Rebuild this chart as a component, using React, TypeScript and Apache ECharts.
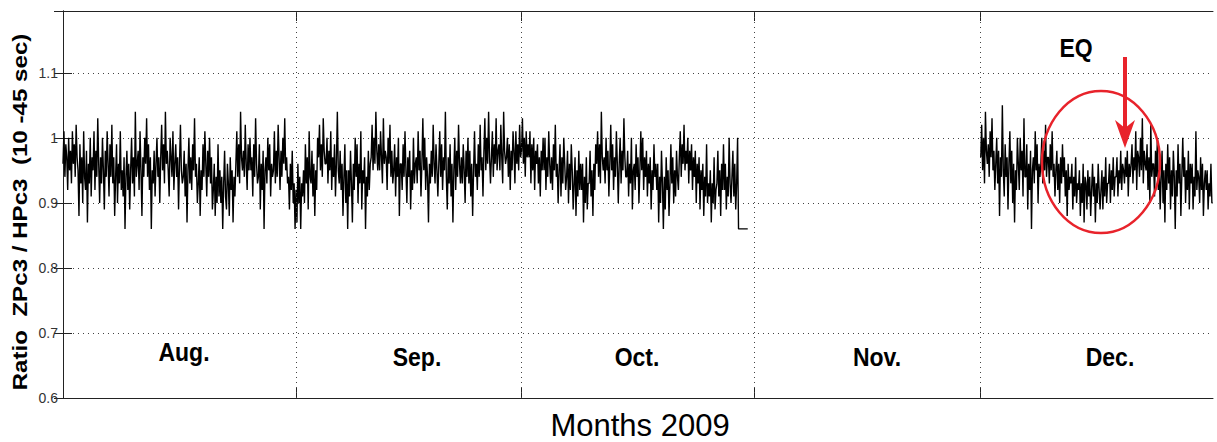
import React, { useEffect, useRef } from 'react';
import * as echarts from 'echarts';

// ---------- data ----------
const monthNames = ['Aug.', 'Sep.', 'Oct.', 'Nov.', 'Dec.'];
const monthBoundaryDays = [0, 31, 61, 92, 122, 153];
const yTickValues = [0.6, 0.7, 0.8, 0.9, 1, 1.1];
const samplesPerDay = 8;
const firstBlockStartDay = 0;
const decStartDay = 122.1;

// ratio values in hundredths, 8 samples per day
const augValues = [
  96, 101, 94, 99, 97, 92, 100, 95, 98, 93, 101, 96, 99, 94, 102, 97,
  95, 88, 99, 93, 97, 90, 101, 94, 92, 98, 87, 96, 93, 100, 91, 97,
  95, 101, 92, 98, 94, 103, 96, 90, 97, 93, 100, 95, 89, 98, 94, 101,
  96, 91, 99, 94, 102, 93, 97, 88, 94, 99, 90, 96, 93, 101, 92, 95,
  91, 97, 86, 94, 98, 92, 96, 89, 95, 100, 93, 97, 91, 104, 94, 96,
  98, 92, 101, 95, 88, 97, 94, 100, 96, 103, 94, 99, 92, 97, 86, 95,
  93, 98, 91, 96, 100, 94, 97, 90, 97, 102, 95, 99, 93, 104, 96, 98,
  95, 91, 100, 97, 94, 101, 92, 96, 99, 94, 97, 89, 96, 102, 95, 93,
  94, 98, 91, 96, 87, 95, 100, 93, 97, 92, 99, 95, 103, 94, 96, 90,
  93, 97, 88, 95, 92, 99, 94, 101, 96, 91, 98, 94, 100, 93, 97, 89,
  92, 96, 88, 94, 90, 99, 91, 95, 90, 94, 86, 93, 98, 91, 89, 96,
  93, 88, 97, 92, 95, 87, 94, 91, 96, 101, 94, 99, 93, 104, 97, 95,
  98, 94, 102, 96, 92, 99, 95, 100, 95, 97, 91, 99, 94, 103, 96, 93,
  94, 99, 89, 96, 92, 98, 86, 95, 97, 93, 100, 95, 99, 91, 96, 94,
  95, 101, 93, 98, 94, 102, 97, 92, 98, 94, 100, 96, 103, 95, 97, 93,
  94, 89, 96, 92, 98, 90, 93, 86,
];
const sepValues = [
  92, 87, 96, 90, 94, 86, 93, 91, 95, 90, 99, 93, 97, 89, 101, 94,
  93, 98, 91, 96, 88, 95, 92, 100, 97, 102, 95, 99, 94, 103, 98, 96,
  96, 100, 93, 98, 95, 101, 92, 97, 94, 99, 91, 96, 104, 95, 93, 98,
  92, 96, 88, 94, 99, 90, 95, 86, 95, 91, 98, 93, 87, 96, 92, 100,
  94, 99, 90, 96, 93, 101, 89, 95, 93, 97, 86, 94, 91, 98, 92, 96,
  97, 102, 95, 100, 96, 104, 98, 95, 99, 95, 101, 97, 93, 103, 96, 98,
  97, 92, 100, 96, 102, 94, 98, 93, 95, 99, 91, 97, 94, 100, 88, 96,
  96, 92, 99, 94, 101, 95, 90, 97, 94, 98, 89, 95, 92, 100, 93, 96,
  97, 93, 101, 95, 98, 91, 96, 103, 95, 100, 92, 97, 94, 87, 96, 93,
  98, 94, 102, 96, 93, 99, 95, 91, 96, 101, 94, 99, 92, 97, 95, 104,
  94, 89, 97, 93, 99, 91, 96, 87, 95, 100, 92, 98, 94, 102, 96, 93,
  97, 93, 99, 95, 90, 98, 94, 100, 93, 98, 91, 96, 88, 95, 101, 94,
  96, 92, 99, 94, 102, 95, 97, 91, 98, 103, 95, 100, 96, 104, 97, 93,
  97, 101, 94, 99, 96, 103, 95, 98, 99, 95, 102, 97, 93, 104, 98, 96,
  97, 100, 94, 99, 92, 98, 95, 101, 98, 93, 101, 96, 99, 95, 102, 97,
];
const octValues = [
  98, 103, 96, 100, 94, 101, 97, 99, 97, 101, 93, 99, 95, 100, 92, 98,
  96, 99, 93, 97, 91, 98, 95, 100, 95, 100, 92, 97, 94, 101, 96, 93,
  97, 92, 99, 95, 102, 94, 96, 90, 95, 99, 91, 97, 93, 100, 96, 92,
  94, 98, 90, 96, 92, 99, 95, 89, 93, 97, 88, 95, 91, 98, 92, 96,
  92, 96, 87, 94, 90, 97, 89, 93, 93, 98, 91, 95, 88, 96, 92, 99,
  96, 101, 94, 99, 93, 104, 97, 95, 97, 93, 100, 95, 98, 91, 96, 102,
  95, 99, 92, 97, 94, 101, 96, 90, 96, 100, 93, 98, 95, 103, 97, 94,
  94, 98, 91, 96, 93, 100, 89, 95, 96, 92, 99, 94, 97, 90, 95, 101,
  95, 100, 92, 97, 94, 98, 91, 96, 93, 97, 89, 95, 92, 99, 94, 96,
  92, 96, 87, 94, 90, 98, 93, 86, 94, 89, 97, 92, 95, 88, 93, 99,
  93, 97, 90, 95, 91, 98, 94, 92, 97, 101, 94, 99, 96, 102, 95, 98,
  96, 100, 93, 98, 95, 99, 92, 97, 94, 98, 90, 96, 93, 97, 89, 95,
  92, 96, 88, 94, 91, 99, 90, 93, 91, 95, 87, 93, 90, 97, 89, 92,
  93, 98, 91, 95, 88, 96, 92, 99, 92, 96, 89, 94, 91, 100, 93, 90,
  94, 98, 91, 96, 89, 93, 100, 86,
];
const octTailDay = 91.1;
const octTailValue = 86;
const decValues = [
  97, 102, 95, 100, 93, 104, 98, 96, 99, 94, 101, 97, 103, 95, 98, 92,
  96, 100, 93, 98, 88, 97, 94, 105, 95, 91, 99, 94, 97, 89, 96, 101,
  93, 98, 90, 96, 87, 95, 92, 100, 96, 92, 100, 95, 98, 91, 103, 94,
  94, 99, 89, 96, 92, 98, 86, 95, 97, 93, 101, 95, 99, 90, 96, 94,
  96, 100, 93, 98, 95, 102, 94, 97, 97, 93, 99, 95, 101, 94, 96, 91,
  95, 98, 92, 96, 90, 97, 93, 99, 94, 97, 91, 95, 88, 96, 92, 94,
  93, 96, 89, 94, 91, 97, 90, 93, 92, 95, 88, 93, 90, 96, 87, 94,
  93, 89, 95, 91, 94, 88, 92, 96, 91, 94, 87, 93, 90, 96, 92, 89,
  92, 95, 89, 94, 91, 97, 90, 93, 93, 96, 90, 95, 92, 97, 91, 94,
  94, 97, 91, 95, 93, 98, 92, 96, 95, 93, 97, 94, 98, 91, 96, 94,
  96, 99, 93, 97, 95, 101, 92, 98, 97, 94, 100, 95, 103, 93, 98, 96,
  95, 99, 92, 97, 90, 102, 94, 96, 96, 91, 98, 94, 100, 92, 95, 89,
  94, 98, 90, 95, 87, 96, 92, 99, 93, 97, 89, 95, 91, 98, 94, 86,
  95, 91, 99, 93, 96, 88, 94, 100, 94, 97, 90, 95, 92, 98, 89, 96,
  93, 96, 89, 94, 91, 101, 92, 95, 94, 90, 97, 92, 96, 88, 93, 95,
  92, 95, 89, 93, 91, 96, 90, 90,
];

// ---------- build ----------
const firstBlock: number[][] = [...augValues, ...sepValues, ...octValues].map((v, i) => [
  firstBlockStartDay + i / samplesPerDay,
  v / 100,
]);
firstBlock.push([octTailDay, octTailValue / 100]);
const decBlock: number[][] = decValues.map((v, i) => [decStartDay + i / samplesPerDay, v / 100]);

const innerBoundaries = monthBoundaryDays.slice(1, -1);

const FONT = '"Liberation Sans", Arial, Helvetica, sans-serif';
const DOT = { color: '#444', width: 1, type: [1, 4] as any };

export default function App() {
  const ref = useRef<HTMLDivElement>(null);
  useEffect(() => {
    document.body.style.margin = '0';
    const chart = echarts.init(ref.current!, null, { renderer: 'svg' });
    const gridLeft = 63, gridTop = 11, gridRight = 4, gridBottom = 44;
    const monthLabelPos = [
      [184, 352], [417, 357], [637, 357], [877, 357], [1110, 357],
    ];
    const yAxisCommon = {
      type: 'value' as const,
      min: 0.6,
      max: 1.195,
      interval: 0.1,
      axisLine: { show: true, lineStyle: { color: '#222', width: 1 } },
      axisTick: { show: true, inside: true, length: 9, lineStyle: { color: '#222' } },
    };
    const xAxisCommon = {
      type: 'value' as const,
      min: monthBoundaryDays[0],
      max: monthBoundaryDays[monthBoundaryDays.length - 1],
      axisLine: { show: true, onZero: false, lineStyle: { color: '#222', width: 1 } },
      axisTick: { show: true, inside: true, length: 10, customValues: innerBoundaries, lineStyle: { color: '#222' } },
      axisLabel: { show: false },
      splitLine: { show: false },
    };
    const lineSeries = (data: number[][]) => ({
      type: 'line',
      data,
      showSymbol: false,
      symbol: 'none',
      lineStyle: { color: '#000', width: 1.4 },
      z: 3,
    });
    chart.setOption({
      animation: false,
      backgroundColor: '#fff',
      grid: { left: gridLeft, top: gridTop, right: gridRight, bottom: gridBottom, show: false },
      xAxis: [
        { ...xAxisCommon, position: 'bottom' },
        { ...xAxisCommon, position: 'top' },
      ],
      yAxis: [
        {
          ...yAxisCommon,
          position: 'left',
          axisLabel: {
            show: true,
            color: '#333',
            fontFamily: FONT,
            fontSize: 14,
            margin: 5,
            showMaxLabel: false,
            formatter: (v: number) => {
              const r = Math.round(v * 10) / 10;
              return yTickValues.some((t) => Math.abs(t - r) < 1e-6) && Math.abs(v - r) < 1e-6 ? String(r) : '';
            },
          },
          splitLine: { show: true, lineStyle: DOT, showMaxLine: false } as any,
        },
        {
          ...yAxisCommon,
          position: 'right',
          axisLabel: { show: false },
          splitLine: { show: false },
        },
      ],
      series: [
        {
          ...lineSeries(firstBlock),
          markLine: {
            silent: true,
            symbol: 'none',
            label: { show: false },
            lineStyle: DOT,
            data: innerBoundaries.map((d) => ({ xAxis: d })),
          },
        },
        lineSeries(decBlock),
      ],
      graphic: [
        {
          type: 'text',
          x: 20,
          y: 212,
          rotation: Math.PI / 2,
          scaleX: 1.15,
          style: {
            text: 'Ratio  ZPc3 / HPc3  (10 -45 sec)',
            font: `bold 21px ${FONT}`,
            fill: '#000',
            align: 'center',
            verticalAlign: 'middle',
          },
        },
        {
          type: 'text',
          x: 640,
          y: 425,
          style: {
            text: 'Months 2009',
            font: `31px ${FONT}`,
            fill: '#000',
            align: 'center',
            verticalAlign: 'middle',
          },
        },
        ...monthNames.map((m, i) => ({
          type: 'text',
          x: monthLabelPos[i][0],
          y: monthLabelPos[i][1],
          scaleY: 1.1,
          style: {
            text: m,
            font: `bold 23px ${FONT}`,
            fill: '#000',
            align: 'center',
            verticalAlign: 'middle',
          },
        })),
        {
          type: 'text',
          x: 1076,
          y: 48,
          scaleY: 1.1,
          style: {
            text: 'EQ',
            font: `bold 23px ${FONT}`,
            fill: '#000',
            align: 'center',
            verticalAlign: 'middle',
          },
        },
        {
          type: 'ellipse',
          shape: { cx: 1101, cy: 162, rx: 59, ry: 71 },
          style: { fill: 'none', stroke: '#e8232b', lineWidth: 2.5 },
          z: 10,
        },
        {
          type: 'line',
          shape: { x1: 1125, y1: 57, x2: 1125, y2: 130 },
          style: { stroke: '#e8232b', lineWidth: 4 },
          z: 10,
        },
        {
          type: 'polygon',
          shape: { points: [[1125, 148], [1135, 120], [1125, 128], [1115, 120]] },
          style: { fill: '#e8232b' },
          z: 10,
        },
      ],
    });
    return () => chart.dispose();
  }, []);
  return <div ref={ref} style={{ width: 1217, height: 442 }} />;
}
